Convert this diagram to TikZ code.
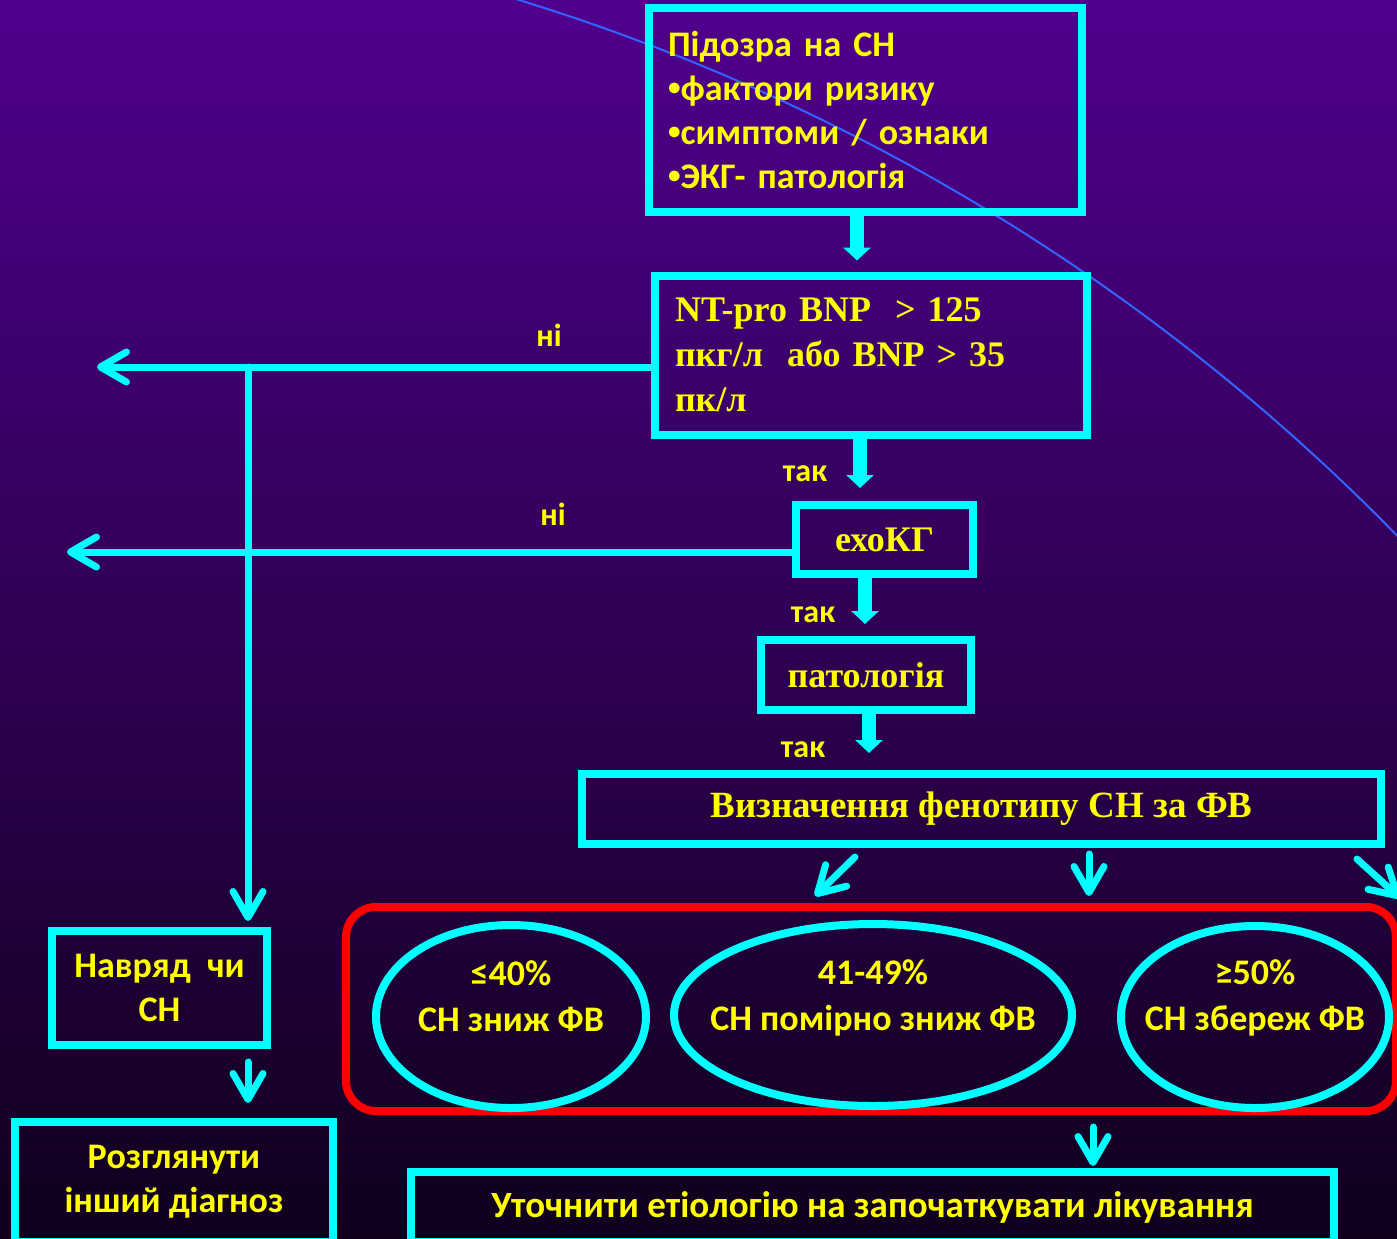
\documentclass[tikz,border=0pt]{standalone}
\usepackage{fontspec}
\setmainfont{Liberation Serif}
\newfontfamily\calib{Carlito}
\usetikzlibrary{arrows.meta,shapes.geometric,calc}
\definecolor{cy}{RGB}{0,255,255}
\definecolor{yl}{RGB}{255,255,0}
\definecolor{rd}{RGB}{255,0,0}
\definecolor{bgtop}{RGB}{80,0,142}
\definecolor{bgmid}{RGB}{60,0,106}
\definecolor{bgbot}{RGB}{16,0,28}
\definecolor{arccol}{RGB}{50,100,255}
\newcommand\bul{\raisebox{0.13em}{\scalebox{0.7}{•}}}
\begin{document}
\begin{tikzpicture}[x=0.5pt,y=-0.5pt,
  sz/.style 2 args={minimum width=#1*0.5pt, minimum height=#2*0.5pt},
  box/.style={draw=cy, line width=4pt, rectangle, inner sep=0pt, text=yl,
    font=\calib\bfseries\fontsize{18pt}{22pt}\selectfont},
  tbox/.style={box, font=\bfseries\fontsize{18pt}{22.5pt}\selectfont},
  ell/.style={draw=cy, line width=4pt, ellipse, inner sep=0pt},
  etxt/.style={text=yl, inner sep=0pt, align=center,
    font=\calib\bfseries\fontsize{18pt}{23pt}\selectfont},
  lbl/.style={text=yl, inner sep=0pt, font=\calib\bfseries\fontsize{16pt}{19pt}\selectfont},
  blk/.style={draw=cy, line width=7pt, -{Triangle[width=13.5pt,length=6.5pt]}},
  chev/.style={draw=cy, line width=3.5pt, line cap=round,
    -{Straight Barb[length=13pt,width=15pt,line cap=round,line join=round]}},
]
\useasboundingbox (0,0) rectangle (1397,1238);
\clip (0,0) rectangle (1397,1238);
\shade[top color=bgtop, middle color=bgmid, bottom color=bgbot] (0,0) rectangle (1397,1238);
% decorative arc
\draw[arccol, line width=1pt] plot[domain=-73:-44, samples=80] ({-93+2083*cos(\x)}, {1991+2083*sin(\x)});

% boxes
\node[box, sz={433}{204}, text width=395*0.5pt, align=left] (b1) at (865.5,110)
  {Підозра на СН\\\bul фактори ризику\\\bul симптоми / ознаки\\\bul ЭКГ- патологія};
\node[tbox, sz={432}{159}, text width=392*0.5pt, align=left] (b2) at (871,355)
  {NT-pro BNP\ \ > 125\\пкг/л\ \ або BNP > 35\\пк/л};
\node[tbox, sz={177}{69}] (exo) at (884.5,539.5) {ехоКГ};
\node[tbox, sz={210}{70}] (pat) at (866,675) {патологія};
\node[tbox, sz={799}{70}, font=\bfseries\fontsize{18.5pt}{22.5pt}\selectfont] (viz) at (981.5,809) {Визначення фенотипу СН за ФВ};
\node[box, sz={215}{114}, align=center] (nav) at (159.5,988) {Навряд\ \ чи\\СН};
\node[box, sz={318}{120}, align=center] (rozg) at (174,1182) {Розглянути\\інший діагноз};
\node[box, sz={923}{70}, font=\calib\bfseries\fontsize{18.5pt}{22pt}\selectfont] (uto) at (872.5,1207) {Уточнити етіологію на започаткувати лікування};

% red group and ellipses
\node[draw=rd, line width=4pt, rounded corners=15pt, sz={1050}{204}, inner sep=0pt] (red) at (871,1009) {};
\node[ell, sz={270}{183}] (e1) at (511,1016.5) {};
\node[ell, sz={398}{182}] (e2) at (873,1015) {};
\node[ell, sz={268}{182}] (e3) at (1255,1017) {};
\node[etxt] (e1t) at ([yshift=10.25pt]e1.center) {≤40\%\\СН зниж ФВ};
\node[etxt] (e2t) at ([yshift=8.5pt]e2.center) {41-49\%\\СН помірно зниж ФВ};
\node[etxt] (e3t) at ([yshift=9.5pt]e3.center) {≥50\%\\СН збереж ФВ};

% labels
\node[lbl] (ni1) at (549,335) {ні};
\node[lbl] (ni2) at (553,514) {ні};
\node[lbl] (tak1) at (805,474) {так};
\node[lbl] (tak2) at (813,615) {так};
\node[lbl] (tak3) at (803,750) {так};

% block arrows
\draw[blk, shorten >=5.5pt] ([xshift=-4.25pt]b1.south) -- ([xshift=-4.25pt]b1.south |- b2.north);
\draw[blk, shorten >=6.5pt] ([xshift=-5.5pt]b2.south) -- ([xshift=-5.5pt]b2.south |- exo.north);
\draw[blk, shorten >=6pt] ([xshift=-9.75pt]exo.south) -- ([xshift=-9.75pt]exo.south |- pat.north);
\draw[blk, shorten >=8.5pt] ([xshift=1.5pt]pat.south) -- ([xshift=1.5pt]pat.south |- viz.north);

% "ni" branches
\coordinate (n1) at (97,367);
\coordinate (n2) at (67,552);
\coordinate (j1) at (248,367);
\draw[chev] (n1 -| b2.west) -- (n1);
\draw[chev] (n2 -| exo.west) -- (n2);
\draw[chev, shorten >=3pt] (j1) -- (j1 |- nav.north);
\draw[chev, shorten <=6.5pt, shorten >=7.5pt] (nav.south -| j1) -- (rozg.north -| j1);

% phenotype fan
\draw[chev] ([shift={(-126.5,9)}]viz.south) -- ([shift={(-56,-7)}]red.north);
\draw[chev] ([shift={(107.5,6)}]viz.south) -- ([shift={(218,-7)}]red.north);
\draw[chev] ([shift={(375.5,11)}]viz.south) -- ([shift={(529,-5)}]red.north);
\draw[chev] ([shift={(222,12)}]red.south) -- ([shift={(220.5,-2)}]uto.north);
\end{tikzpicture}
\end{document}
